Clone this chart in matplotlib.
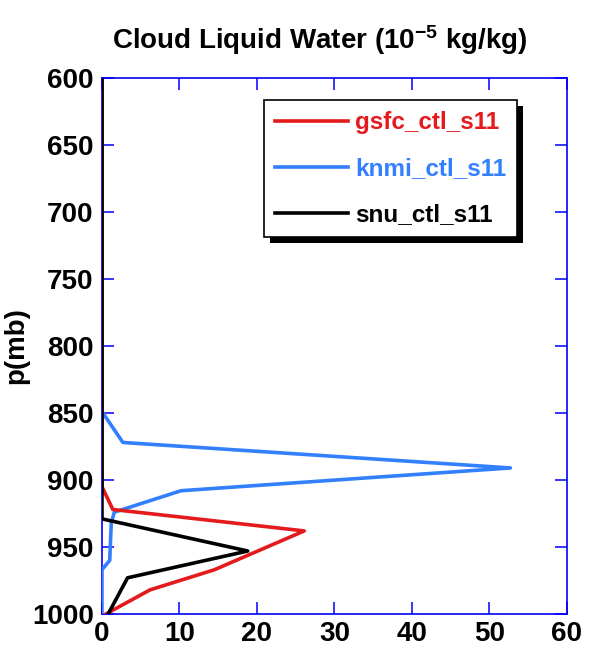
import matplotlib
matplotlib.use("Agg")
import matplotlib.pyplot as plt
import matplotlib.patheffects as pe

# Cloud liquid water profiles (1e-5 kg/kg) against pressure (mb)
gsfc_p = [600, 905, 922, 938, 967, 982, 1000]
gsfc_q = [0.0, 0.0, 1.4, 26.1, 14.5, 6.2, 0.5]

knmi_p = [600, 849, 872, 891, 908, 924, 932, 960, 967, 1000]
knmi_q = [0.0, 0.0, 2.7, 52.7, 10.2, 1.6, 1.2, 1.0, 0.0, 0.0]

snu_p = [600, 929, 953, 973, 1000]
snu_q = [0.0, 0.0, 18.8, 3.3, 0.8]

series_names = ["gsfc_ctl_s11", "knmi_ctl_s11", "snu_ctl_s11"]
series_colors = ["#e41a1c", "#3380ff", "#000000"]

x_ticks = [0, 10, 20, 30, 40, 50, 60]
y_ticks = [600, 650, 700, 750, 800, 850, 900, 950, 1000]

plt.rcParams["font.family"] = ["Liberation Sans", "DejaVu Sans"]
plt.rcParams["font.weight"] = "bold"
plt.rcParams["mathtext.fontset"] = "custom"
plt.rcParams["mathtext.rm"] = "Liberation Sans:bold"
plt.rcParams["mathtext.bf"] = "Liberation Sans:bold"
plt.rcParams["mathtext.it"] = "Liberation Sans:bold"

fig = plt.figure(figsize=(5.96, 6.59), dpi=100)
ax = fig.add_axes([0.1711, 0.0683, 0.7802, 0.8133])

lw = 2.6
ax.plot(gsfc_q, gsfc_p, color=series_colors[0], lw=lw, label=series_names[0], zorder=3)
ax.plot(knmi_q, knmi_p, color=series_colors[1], lw=lw, label=series_names[1], zorder=2)
ax.plot(snu_q, snu_p, color=series_colors[2], lw=lw, label=series_names[2], zorder=4)

ax.set_xlim(0, 60)
ax.set_ylim(1000, 600)
ax.set_xticks(x_ticks)
ax.set_yticks(y_ticks)
ax.tick_params(direction="in", length=8.5, width=1.1, color="blue",
               top=True, right=True, labelsize=20)
ax.tick_params(axis="x", pad=5)
ax.tick_params(axis="y", pad=6)
for lab in ax.get_xticklabels() + ax.get_yticklabels():
    lab.set_fontweight("bold")
for sp in ax.spines.values():
    sp.set_color("blue")
    sp.set_linewidth(1.2)
    sp.set_zorder(1)

ax.set_title("Cloud Liquid Water (10$^{\\mathrm{-5}}$ kg/kg)", fontsize=20,
             fontweight="bold", pad=21, x=0.469)
ax.set_ylabel("p(mb)", fontsize=20, fontweight="bold", labelpad=2)

leg = ax.legend(loc="upper right", bbox_to_anchor=(0.9185, 0.9815),
                fontsize=17.5, frameon=True, fancybox=False, edgecolor="black",
                framealpha=1.0, handlelength=3.0, handletextpad=0.3,
                labelspacing=0.95, borderpad=0.45, labelcolor="linecolor")
frame = leg.get_frame()
frame.set_linewidth(1.2)
frame.set_path_effects([pe.SimplePatchShadow(offset=(4.5, -4.5), shadow_rgbFace="black", alpha=1.0),
                        pe.Normal()])
for line in leg.get_lines():
    line.set_linewidth(2.6)

fig.savefig("out.png", dpi=100)
